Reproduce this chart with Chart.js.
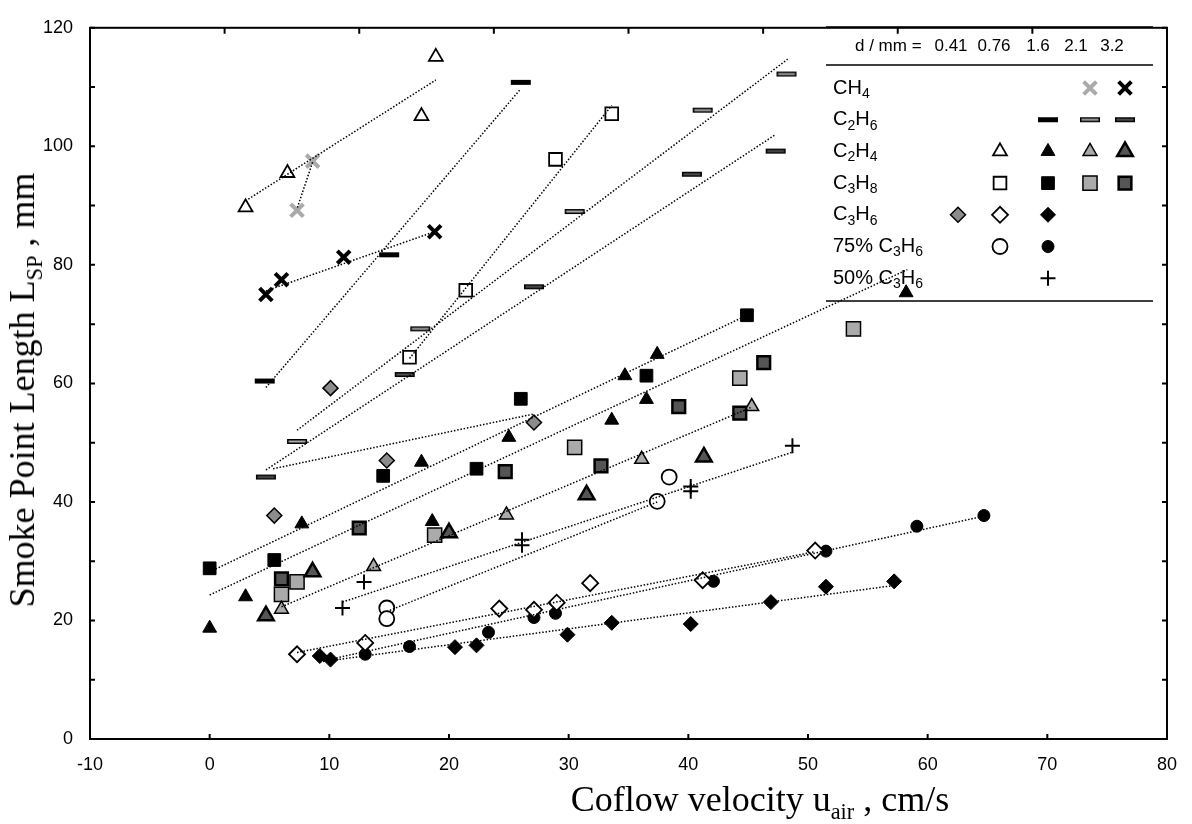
<!DOCTYPE html>
<html>
<head>
<meta charset="utf-8">
<script src="https://cdn.jsdelivr.net/npm/chart.js@4/dist/chart.umd.min.js"></script>
<style>
html, body { margin: 0; padding: 0; background: #fff; }
#wrap { position: relative; width: 1192px; height: 824px; }
#plot { position: absolute; left: 0; top: 0; }
.axis-title {
    position: absolute;
    font-family: "Liberation Serif", "Times New Roman", serif;
    font-size: 36px;
    line-height: 1;
    color: #000;
    white-space: nowrap;
}
.axis-title sub { font-size: 0.62em; line-height: 0; }
#ytitle { left: 22px; top: 390px; transform: translate(-50%, -50%) rotate(-90deg); }
#xtitle { left: 760px; top: 799px; transform: translate(-50%, -50%); }
</style>
</head>
<body>
<div id="wrap">
    <canvas id="plot" width="1192" height="824"></canvas>
    <div class="axis-title" id="ytitle">Smoke Point Length L<sub>SP</sub> , mm</div>
    <div class="axis-title" id="xtitle">Coflow velocity u<sub>air</sub> , cm/s</div>
</div>
<script>
// legend categories
const fuels = ["CH4", "C2H6", "C2H4", "C3H8", "C3H6", "75% C3H6", "50% C3H6"];
const diameters = ["0.41", "0.76", "1.6", "2.1", "3.2"];

// measured points [u_air, L_SP]
const CH4_d21 = [[8.6, 97.5], [7.3, 89.2]];
const CH4_d32 = [[4.7, 75.0], [6.0, 77.5], [11.2, 81.3], [18.8, 85.6]];
const C2H6_d16 = [[4.6, 60.4], [15.0, 81.7], [26.0, 110.8]];
const C2H6_d21 = [[7.3, 50.2], [17.6, 69.2], [30.5, 89.0], [41.2, 106.1], [48.2, 112.2]];
const C2H6_d32 = [[4.7, 44.2], [16.3, 61.5], [27.1, 76.3], [40.3, 95.3], [47.3, 99.2]];
const C2H4_d076 = [[3.0, 89.7], [6.5, 95.5], [17.7, 105.1], [18.9, 115.1]];
const C2H4_d16 = [[0.0, 18.7], [3.0, 24.0], [7.7, 36.3], [17.7, 46.7], [18.6, 36.7], [25.0, 50.9],
    [33.6, 53.8], [34.7, 61.3], [36.5, 57.3], [37.4, 64.9], [58.2, 75.3]];
const C2H4_d21 = [[6.0, 21.9], [13.7, 29.1], [24.8, 37.8], [36.1, 47.2], [45.3, 56.1]];
const C2H4_d32 = [[4.7, 20.8], [8.6, 28.2], [20.0, 34.8], [31.5, 41.2], [41.3, 47.6]];
const C3H8_d076 = [[16.7, 64.4], [21.4, 75.7], [28.9, 97.8], [33.6, 105.5]];
const C3H8_d16 = [[0.0, 28.8], [5.4, 30.2], [14.5, 44.4], [22.3, 45.6], [26.0, 57.4], [36.5, 61.3], [44.9, 71.5]];
const C3H8_d21 = [[6.0, 24.4], [7.3, 26.5], [18.8, 34.4], [30.5, 49.2], [44.3, 60.9], [53.8, 69.2]];
const C3H8_d32 = [[6.0, 27.0], [12.5, 35.6], [24.7, 45.1], [32.7, 46.1], [39.2, 56.1], [44.3, 55.0], [46.3, 63.5]];
const C3H6_d041 = [[10.1, 59.2], [14.8, 47.0], [5.4, 37.7], [27.1, 53.4]];
const C3H6_d076 = [[7.3, 14.3], [13.0, 16.2], [24.2, 22.0], [27.1, 21.8], [29.0, 23.0], [31.8, 26.3], [41.2, 26.8], [50.6, 31.8]];
const C3H6_d16 = [[9.2, 14.0], [10.1, 13.4], [20.5, 15.5], [22.3, 15.8], [29.9, 17.6], [33.6, 19.6],
    [40.2, 19.4], [46.9, 23.1], [51.5, 25.7], [57.2, 26.6]];
const M75_d076 = [[14.8, 22.1], [14.8, 20.3], [38.4, 44.2], [37.4, 40.1]];
const M75_d16 = [[13.0, 14.3], [16.7, 15.6], [23.3, 18.0], [27.1, 20.5], [28.9, 21.2], [42.1, 26.6], [51.5, 31.7], [59.1, 35.9], [64.7, 37.7]];
const M50_d16 = [[11.1, 22.1], [12.9, 26.5], [26.1, 33.6], [26.1, 32.7], [40.2, 42.6], [40.2, 41.8], [48.7, 49.5]];

// dotted fit lines, end points
const fit_CH4_d21 = [[8.6, 97.3], [7.3, 89.5]];
const fit_CH4_d32 = [[4.7, 75.6], [18.8, 85.6]];
const fit_C2H6_d16 = [[4.7, 59.3], [26.0, 109.7]];
const fit_C2H6_d21 = [[7.3, 52.1], [48.3, 114.7]];
const fit_C2H6_d32 = [[4.7, 45.4], [47.3, 102.0]];
const fit_C2H4_d076 = [[3.0, 90.8], [18.9, 111.2]];
const fit_C2H4_d16 = [[0.0, 24.3], [58.3, 79.2]];
const fit_C2H4_d21 = [[6.0, 22.3], [45.3, 56.0]];
const fit_C3H8_d076 = [[16.7, 64.2], [33.6, 106.9]];
const fit_C3H8_d16 = [[0.0, 28.2], [44.9, 71.5]];
const fit_C3H6_d041 = [[5.3, 45.6], [27.0, 54.8]];
const fit_C3H6_d076 = [[7.3, 14.6], [50.6, 31.6]];
const fit_C3H6_d16 = [[9.2, 13.0], [57.2, 25.9]];
const fit_M75_d076 = [[14.8, 21.5], [37.4, 40.0]];
const fit_M75_d16 = [[9.5, 13.2], [64.7, 37.6]];
const fit_M50_d16 = [[11.1, 23.1], [48.7, 48.4]];

// fuel index, diameter index, points, fit
const series = [
    [0, 3, CH4_d21, fit_CH4_d21],
    [0, 4, CH4_d32, fit_CH4_d32],
    [1, 2, C2H6_d16, fit_C2H6_d16],
    [1, 3, C2H6_d21, fit_C2H6_d21],
    [1, 4, C2H6_d32, fit_C2H6_d32],
    [2, 1, C2H4_d076, fit_C2H4_d076],
    [2, 2, C2H4_d16, fit_C2H4_d16],
    [2, 3, C2H4_d21, fit_C2H4_d21],
    [2, 4, C2H4_d32, null],
    [3, 1, C3H8_d076, fit_C3H8_d076],
    [3, 2, C3H8_d16, fit_C3H8_d16],
    [3, 3, C3H8_d21, null],
    [3, 4, C3H8_d32, null],
    [4, 0, C3H6_d041, fit_C3H6_d041],
    [4, 1, C3H6_d076, fit_C3H6_d076],
    [4, 2, C3H6_d16, fit_C3H6_d16],
    [5, 1, M75_d076, fit_M75_d076],
    [5, 2, M75_d16, fit_M75_d16],
    [6, 2, M50_d16, fit_M50_d16],
];

const fills = ["#8c8c8c", "#ffffff", "#000000", "#aaaaaa", "#555555"];
const edges = [1.5, 1.8, 1, 1.5, 2.5];

function barMark(fill, edge) {
    const c = document.createElement("canvas");
    c.width = 22;
    c.height = 7;
    const g = c.getContext("2d");
    g.fillStyle = fill;
    g.fillRect(1, 1, 20, 5);
    if (edge) {
        g.strokeStyle = "#000";
        g.lineWidth = 1.5;
        g.strokeRect(1.75, 1.75, 18.5, 3.5);
    }
    return c;
}

function markerStyle(f, d) {
    const s = {
        pointStyle: "circle",
        pointRadius: 7,
        pointBackgroundColor: fills[d],
        pointBorderColor: "#000",
        pointBorderWidth: edges[d],
    };
    if (f == 0) {
        s.pointStyle = "crossRot";
        s.pointRadius = 9;
        s.pointBorderWidth = 4;
        s.pointBorderColor = d == 3 ? "#aaaaaa" : "#000";
    } else if (f == 1) {
        s.pointStyle = barMark(fills[d], d != 2);
    } else if (f == 2) {
        s.pointStyle = "triangle";
        s.pointRadius = d == 4 ? 9 : 8;
    } else if (f == 3) {
        s.pointStyle = "rect";
        s.pointRadius = d == 3 ? 10 : 9;
    } else if (f == 4) {
        s.pointStyle = "rectRot";
        s.pointRadius = d == 1 ? 8 : 7.5;
    } else if (f == 5) {
        s.pointRadius = d == 1 ? 7.5 : 6;
    } else if (f == 6) {
        s.pointStyle = "cross";
        s.pointRadius = 7.5;
        s.pointBorderWidth = 2;
    }
    return s;
}

const toXY = (arr) => arr.map(([x, y]) => ({ x, y }));

const datasets = [];
series.forEach(([f, d, pts, fit]) => {
    datasets.push(Object.assign({
        label: fuels[f] + " d=" + diameters[d],
        data: toXY(pts),
        showLine: false,
        order: 1,
    }, markerStyle(f, d)));
    if (fit) {
        datasets.push({
            label: "fit",
            data: toXY(fit),
            showLine: true,
            pointRadius: 0,
            borderColor: "#000",
            borderWidth: 1.5,
            borderDash: [1.5, 1.8],
            order: 0,
        });
    }
});

const legendCols = [958, 1000, 1048, 1090, 1125];
const headerCols = [951, 994, 1038, 1076, 1112];

function drawChem(ctx, text, x, y, size) {
    let px = x;
    for (let i = 0; i < text.length; i++) {
        const ch = text[i];
        const sub = /[0-9]/.test(ch) && i > 0 && /[A-Za-z]/.test(text[i - 1]);
        ctx.font = (sub ? size * 0.7 : size) + 'px "Liberation Sans", Arial, sans-serif';
        ctx.fillText(ch, px, sub ? y + size * 0.3 : y);
        px += ctx.measureText(ch).width;
    }
}

const legendBox = {
    id: "legendBox",
    beforeDatasetsDraw(chart) {
        const ctx = chart.ctx;
        ctx.save();
        ctx.strokeStyle = "#000";
        ctx.lineWidth = 1.5;
        ctx.beginPath();
        [27, 65, 301].forEach((ly) => {
            ctx.moveTo(826, ly);
            ctx.lineTo(1153, ly);
        });
        ctx.stroke();
        ctx.fillStyle = "#000";
        ctx.textBaseline = "middle";
        ctx.font = '17px "Liberation Sans", Arial, sans-serif';
        ctx.textAlign = "left";
        ctx.fillText("d / mm =", 855, 46);
        ctx.textAlign = "center";
        diameters.forEach((d, i) => ctx.fillText(d, headerCols[i], 46));
        ctx.textAlign = "left";
        fuels.forEach((name, r) => drawChem(ctx, name, 833, 88 + r * 31.7, 20));
        series.forEach(([f, d]) => {
            const s = markerStyle(f, d);
            const py = 88 + f * 31.7;
            ctx.fillStyle = s.pointBackgroundColor;
            ctx.strokeStyle = s.pointBorderColor;
            ctx.lineWidth = s.pointBorderWidth;
            Chart.helpers.drawPoint(ctx, {
                pointStyle: s.pointStyle,
                radius: s.pointRadius,
                borderWidth: s.pointBorderWidth,
                rotation: 0,
            }, legendCols[d], py);
        });
        ctx.restore();
    },
};

const frameTicks = {
    id: "frameTicks",
    afterDatasetsDraw(chart) {
        const { ctx, chartArea: a, scales: { x, y } } = chart;
        ctx.save();
        ctx.strokeStyle = "#000";
        ctx.lineWidth = 2;
        ctx.strokeRect(a.left, a.top, a.right - a.left, a.bottom - a.top);
        ctx.beginPath();
        for (let v = 0; v <= 120; v += 10) {
            const py = y.getPixelForValue(v);
            ctx.moveTo(a.left, py);
            ctx.lineTo(a.left + 5, py);
            ctx.moveTo(a.right, py);
            ctx.lineTo(a.right - 5, py);
        }
        for (let v = -10; v <= 80; v += 10) {
            const px = x.getPixelForValue(v);
            ctx.moveTo(px, a.bottom);
            ctx.lineTo(px, a.bottom - 5);
        }
        for (let k = 1; k < 8; k++) {
            const px = a.left + (a.right - a.left) * k / 8;
            ctx.moveTo(px, a.top);
            ctx.lineTo(px, a.top + 6);
        }
        ctx.stroke();
        ctx.restore();
    },
};

Chart.defaults.font.family = '"Liberation Sans", Arial, sans-serif';
Chart.defaults.color = "#000";

new Chart(document.getElementById("plot"), {
    type: "scatter",
    data: { datasets: datasets },
    options: {
        responsive: false,
        animation: false,
        layout: { padding: { top: 18, right: 24, left: 0, bottom: 0 } },
        plugins: { legend: { display: false }, tooltip: { enabled: false } },
        scales: {
            x: {
                type: "linear",
                min: -10,
                max: 80,
                grid: { display: false, drawTicks: false },
                border: { display: false },
                ticks: { stepSize: 10, padding: 15, font: { size: 18 } },
                afterFit: (s) => { s.height = 85; },
            },
            y: {
                type: "linear",
                min: 0,
                max: 120,
                grid: { display: false, drawTicks: false },
                border: { display: false },
                ticks: { stepSize: 20, padding: 17, font: { size: 18 } },
                afterFit: (s) => { s.width = 90; },
            },
        },
    },
    plugins: [legendBox, frameTicks],
});
</script>
</body>
</html>
